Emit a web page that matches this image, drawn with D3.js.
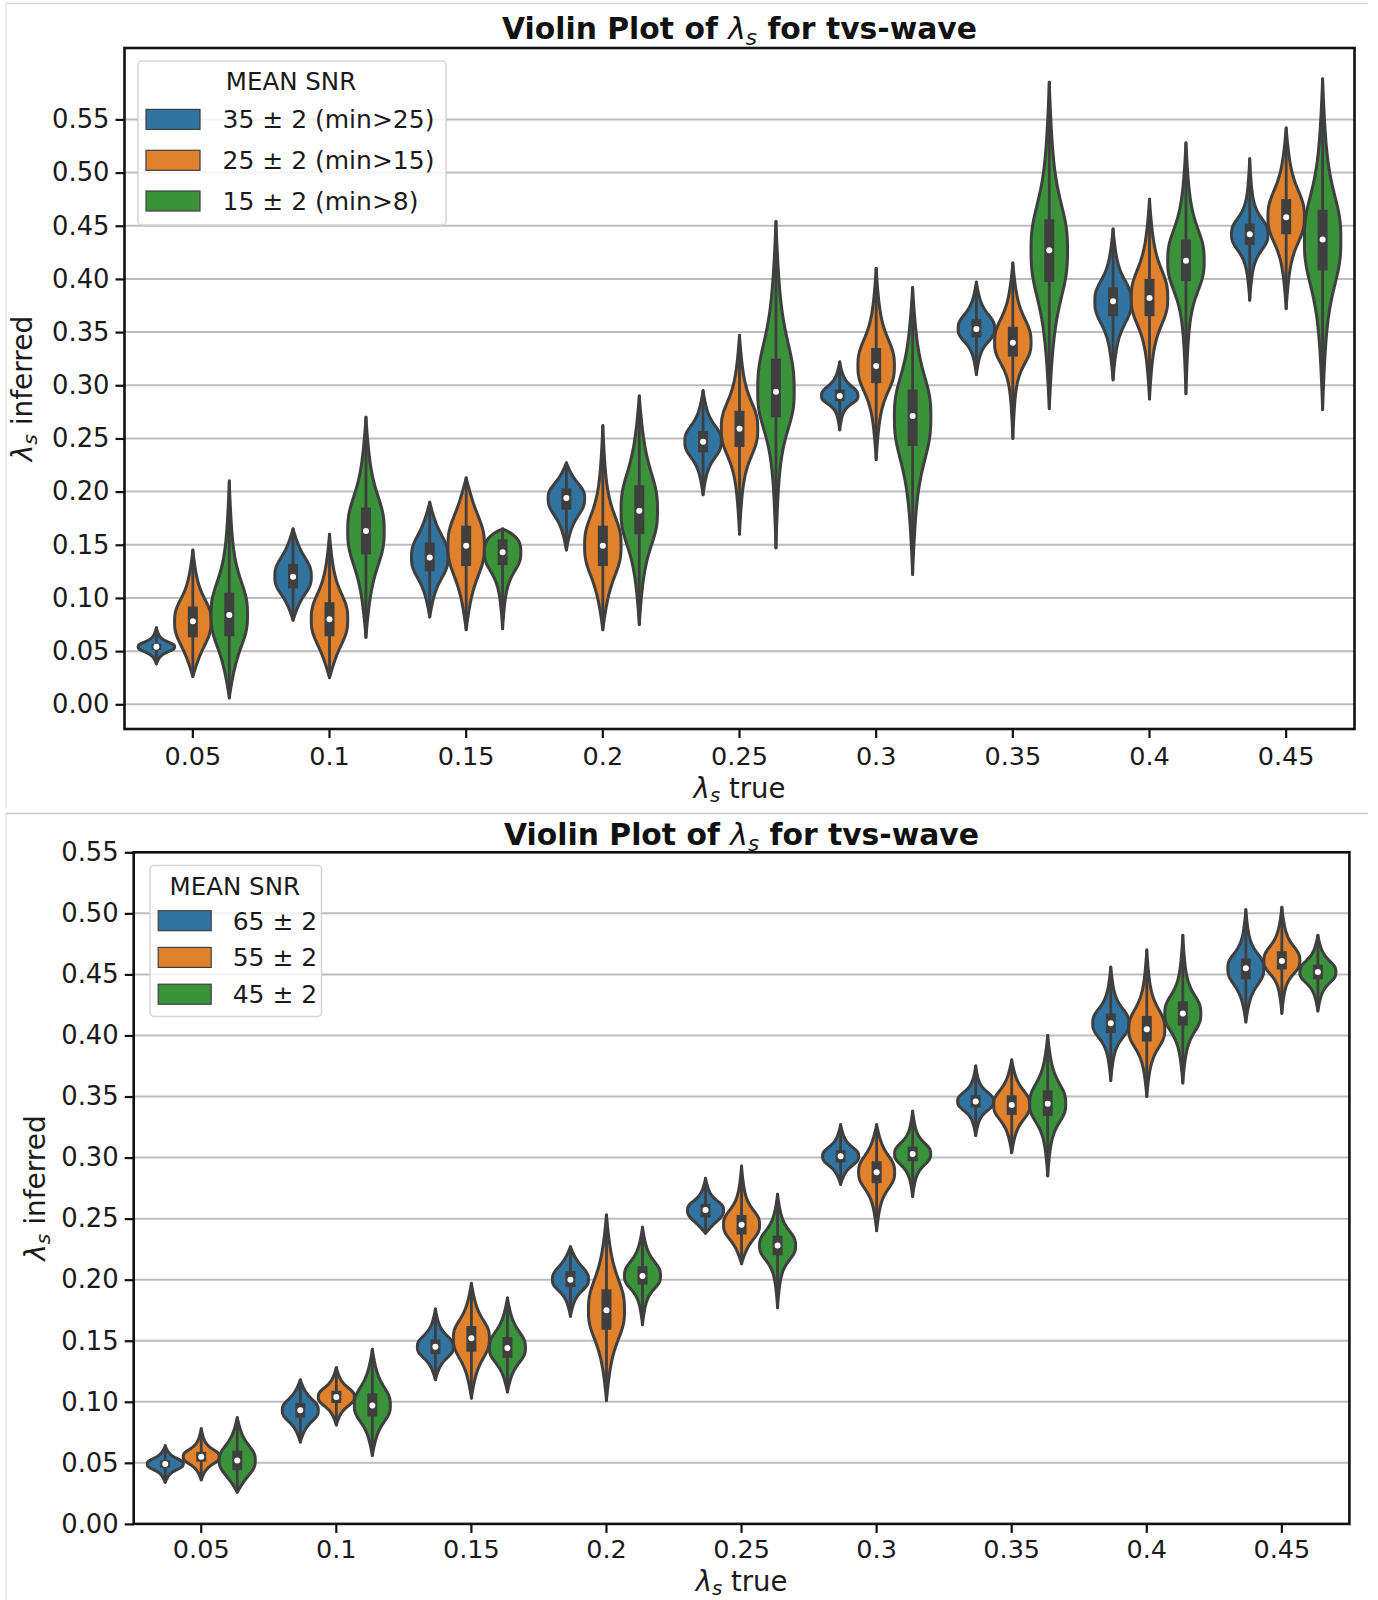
<!DOCTYPE html>
<html>
<head>
<meta charset="utf-8">
<title>Violin plots</title>
<style>
  body { margin: 0; background: #fff; }
  svg { display: block; font-family: "DejaVu Sans", sans-serif; }
</style>
</head>
<body>
<script src="https://d3js.org/d3.v7.min.js"></script>
<script>
// categories and ticks
var categories = ["0.05", "0.1", "0.15", "0.2", "0.25", "0.3", "0.35", "0.4", "0.45"];
var yTicks = [0, 0.05, 0.10, 0.15, 0.20, 0.25, 0.30, 0.35, 0.40, 0.45, 0.50, 0.55];
var colors = ["#3274a1", "#e1812c", "#3a923a"];

var topLegend = ["35 \u00b1 2 (min>25)", "25 \u00b1 2 (min>15)", "15 \u00b1 2 (min>8)"];
var botLegend = ["65 \u00b1 2", "55 \u00b1 2", "45 \u00b1 2"];

// each violin: [min, q1, median, q3, max]
var topBlue = [
  [0.038, 0.051, 0.054, 0.057, 0.072],
  [0.079, 0.109, 0.120, 0.132, 0.165],
  [0.082, 0.125, 0.138, 0.152, 0.190],
  [0.145, 0.183, 0.194, 0.203, 0.227],
  [0.197, 0.237, 0.247, 0.257, 0.295],
  [0.258, 0.285, 0.290, 0.296, 0.322],
  [0.310, 0.345, 0.353, 0.362, 0.397],
  [0.305, 0.365, 0.379, 0.392, 0.447],
  [0.380, 0.432, 0.442, 0.452, 0.513]
];
var topOrange = [
  [0.026, 0.063, 0.078, 0.092, 0.145],
  [0.025, 0.064, 0.080, 0.096, 0.160],
  [0.070, 0.130, 0.149, 0.168, 0.213],
  [0.070, 0.130, 0.149, 0.168, 0.262],
  [0.160, 0.242, 0.259, 0.276, 0.347],
  [0.230, 0.302, 0.318, 0.335, 0.410],
  [0.250, 0.327, 0.340, 0.355, 0.415],
  [0.287, 0.365, 0.382, 0.400, 0.475],
  [0.372, 0.442, 0.458, 0.475, 0.542]
];
var topGreen = [
  [0.006, 0.064, 0.084, 0.105, 0.210],
  [0.063, 0.141, 0.163, 0.185, 0.270],
  [0.071, 0.131, 0.143, 0.155, 0.165],
  [0.075, 0.160, 0.182, 0.206, 0.290],
  [0.147, 0.270, 0.294, 0.325, 0.454],
  [0.122, 0.243, 0.271, 0.296, 0.392],
  [0.278, 0.397, 0.427, 0.456, 0.585],
  [0.292, 0.398, 0.417, 0.437, 0.528],
  [0.277, 0.408, 0.437, 0.465, 0.588]
];

var botBlue = [
  [0.034, 0.046, 0.049, 0.052, 0.064],
  [0.067, 0.087, 0.093, 0.099, 0.118],
  [0.118, 0.139, 0.145, 0.151, 0.176],
  [0.170, 0.194, 0.200, 0.207, 0.227],
  [0.238, 0.251, 0.257, 0.262, 0.283],
  [0.278, 0.296, 0.301, 0.306, 0.327],
  [0.318, 0.341, 0.346, 0.351, 0.375],
  [0.363, 0.402, 0.410, 0.418, 0.456],
  [0.411, 0.446, 0.455, 0.463, 0.503]
];
var botOrange = [
  [0.036, 0.051, 0.055, 0.059, 0.078],
  [0.081, 0.099, 0.104, 0.109, 0.128],
  [0.103, 0.141, 0.152, 0.162, 0.197],
  [0.101, 0.159, 0.175, 0.192, 0.253],
  [0.213, 0.237, 0.245, 0.253, 0.293],
  [0.240, 0.279, 0.288, 0.297, 0.327],
  [0.304, 0.335, 0.343, 0.351, 0.380],
  [0.350, 0.395, 0.405, 0.416, 0.470],
  [0.418, 0.454, 0.461, 0.469, 0.505]
];
var botGreen = [
  [0.026, 0.044, 0.052, 0.060, 0.087],
  [0.056, 0.088, 0.097, 0.107, 0.143],
  [0.108, 0.136, 0.144, 0.153, 0.185],
  [0.163, 0.196, 0.203, 0.211, 0.243],
  [0.177, 0.220, 0.228, 0.236, 0.270],
  [0.268, 0.297, 0.303, 0.309, 0.338],
  [0.285, 0.334, 0.344, 0.355, 0.400],
  [0.361, 0.408, 0.418, 0.428, 0.482],
  [0.420, 0.446, 0.452, 0.458, 0.482]
];

var W = 1378, H = 1600;
var svg = d3.select("body").append("svg").attr("width", W).attr("height", H);

// screenshot frames
svg.append("line").attr("x1", 6).attr("x2", 1368).attr("y1", 3.5).attr("y2", 3.5)
  .attr("stroke", "#d8d8d8").attr("stroke-width", 1.5);
svg.append("line").attr("x1", 6).attr("x2", 6).attr("y1", 3).attr("y2", 808)
  .attr("stroke", "#e4e4e4").attr("stroke-width", 1.5);
svg.append("line").attr("x1", 6).attr("x2", 1368).attr("y1", 813.5).attr("y2", 813.5)
  .attr("stroke", "#c8c8c8").attr("stroke-width", 1.5);
svg.append("line").attr("x1", 6).attr("x2", 6).attr("y1", 813).attr("y2", 1600)
  .attr("stroke", "#e4e4e4").attr("stroke-width", 1.5);

var grey = "#3f3f3f";

// lambda_s label builder
function lambdaText(sel, before, after, sub) {
  sel.append("tspan").text(before);
  sel.append("tspan").attr("font-style", "italic").attr("font-weight", "normal").text("\u03bb");
  sel.append("tspan").attr("font-style", "italic").attr("font-weight", "normal")
    .attr("font-size", "72%").attr("dy", sub).text("s");
  sel.append("tspan").attr("dy", -sub).text(after);
}

// outline half-width (0..1) at value v for a violin summary
function profile(s, v) {
  var mn = s[0], q1 = s[1], md = s[2], q3 = s[3], mx = s[4];
  var up = v >= md;
  var iq = Math.max(up ? q3 - md : md - q1, 1e-4);
  var u = Math.abs(v - md) / iq;
  var f = 1 / (1 + Math.pow(u / 1.85, 2.8));
  var t = Math.abs(v - md) / Math.max(up ? mx - md : md - mn, 1e-4);
  f = (f + 0.045 * (1 - Math.pow(t, 3))) / 1.045;
  return Math.max(f * (1 - Math.pow(t, 6)), 0);
}

function drawPanel(p) {
  var g = svg.append("g");

  var x = d3.scaleBand().domain(categories).range([p.left, p.right]).padding(0);
  var hue = d3.scaleBand().domain([0, 1, 2]).range([-0.4 * x.bandwidth(), 0.4 * x.bandwidth()]);
  var y = d3.scaleLinear().domain([0, 0.55]).range([p.y0, p.y55]);

  // grid
  g.append("g").selectAll("line").data(yTicks).join("line")
    .attr("x1", p.left).attr("x2", p.right)
    .attr("y1", function (d) { return y(d); }).attr("y2", function (d) { return y(d); })
    .attr("stroke", "#bdbdbd").attr("stroke-width", 2);

  // violins
  var half = hue.bandwidth() / 2;
  var series = [p.blue, p.orange, p.green];
  series.forEach(function (ser, si) {
    ser.forEach(function (s, ci) {
      var cx = x(categories[ci]) + x.bandwidth() / 2 + hue(si) + hue.bandwidth() / 2;
      var mn = s[0], q1 = s[1], md = s[2], q3 = s[3], mx = s[4];
      var grid = d3.range(0, 101).map(function (i) { return mn + (mx - mn) * i / 100; });
      grid.push(md);
      grid.sort(d3.ascending);
      var pts = grid.map(function (v) { return { v: v, w: profile(s, v) }; });

      var area = d3.area()
        .y(function (d) { return y(d.v); })
        .x0(function (d) { return cx - d.w * half; })
        .x1(function (d) { return cx + d.w * half; })
        .curve(d3.curveBasis);

      g.append("path").attr("d", area(pts))
        .attr("fill", colors[si]).attr("stroke", grey).attr("stroke-width", 3)
        .attr("stroke-linejoin", "round");
      g.append("line").attr("x1", cx).attr("x2", cx)
        .attr("y1", y(mn)).attr("y2", y(mx))
        .attr("stroke", grey).attr("stroke-width", 2.8).attr("stroke-linecap", "round");
      g.append("rect").attr("x", cx - 5).attr("width", 10)
        .attr("y", y(q3)).attr("height", y(q1) - y(q3)).attr("fill", grey);
      g.append("circle").attr("cx", cx).attr("cy", y(md)).attr("r", 3).attr("fill", "#fff");
    });
  });

  // frame
  g.append("rect").attr("x", p.left).attr("y", p.top)
    .attr("width", p.right - p.left).attr("height", p.bottom - p.top)
    .attr("fill", "none").attr("stroke", "#111").attr("stroke-width", 2.6);

  // axes
  var yAxis = d3.axisLeft(y).tickValues(yTicks).tickFormat(d3.format(".2f"))
    .tickSize(9).tickPadding(6);
  var ya = g.append("g").attr("transform", "translate(" + p.left + ",0)").call(yAxis);
  ya.select(".domain").remove();
  ya.selectAll("line").attr("stroke", "#111").attr("stroke-width", 2.2);
  ya.selectAll("text").attr("font-size", 25.8).attr("font-family", "DejaVu Sans").attr("fill", "#1a1a1a");

  var xAxis = d3.axisBottom(x).tickSize(9).tickPadding(p.xPad);
  var xa = g.append("g").attr("transform", "translate(0," + p.bottom + ")").call(xAxis);
  xa.select(".domain").remove();
  xa.selectAll("line").attr("stroke", "#111").attr("stroke-width", 2.2);
  xa.selectAll("text").attr("font-size", 25.5).attr("font-family", "DejaVu Sans").attr("fill", "#1a1a1a");

  var mid = (p.left + p.right) / 2;
  // title
  var title = g.append("text").attr("x", mid).attr("y", p.titleY).attr("text-anchor", "middle")
    .attr("font-size", 29.8).attr("font-weight", "bold").attr("fill", "#111");
  lambdaText(title, "Violin Plot of ", " for tvs-wave", 6);

  // x label
  var xl = g.append("text").attr("x", mid).attr("y", p.xLabelY).attr("text-anchor", "middle")
    .attr("font-size", 27.5).attr("fill", "#1a1a1a");
  lambdaText(xl, "", " true", 4);

  // y label
  var yl = g.append("text").attr("text-anchor", "middle").attr("font-size", 28).attr("fill", "#1a1a1a")
    .attr("transform", "translate(" + p.yLabelX + "," + ((p.top + p.bottom) / 2) + ") rotate(-90)");
  lambdaText(yl, "", " inferred", 5);

  // legend
  var L = p.legend;
  var lg = g.append("g");
  lg.append("rect").attr("x", L.x).attr("y", L.y).attr("width", L.w).attr("height", L.h)
    .attr("rx", 4).attr("fill", "#fff").attr("fill-opacity", 0.82)
    .attr("stroke", "#d4d4d4").attr("stroke-width", 1.5);
  lg.append("text").attr("x", L.titleX).attr("y", L.titleY).attr("text-anchor", "middle")
    .attr("font-size", 24.5).attr("fill", "#1a1a1a").text("MEAN SNR");
  lg.selectAll("g.item").data(p.labels).join("g").attr("class", "item")
    .each(function (d, i) {
      var it = d3.select(this);
      var cy = L.rowY[i];
      it.append("rect").attr("x", L.px).attr("y", cy - 10).attr("width", L.pw).attr("height", 20)
        .attr("fill", colors[i]).attr("stroke", grey).attr("stroke-width", 1.2);
      it.append("text").attr("x", L.tx).attr("y", cy + 9).attr("font-size", 25)
        .attr("fill", "#1a1a1a").text(d);
    });
}

drawPanel({
  left: 124.5, right: 1354.5, top: 48, bottom: 729,
  y0: 704.3, y55: 119.4, xPad: 9,
  titleY: 39, xLabelY: 798, yLabelX: 32,
  blue: topBlue, orange: topOrange, green: topGreen,
  labels: topLegend,
  legend: { x: 138, y: 61, w: 308, h: 164, titleX: 291, titleY: 90,
            px: 146, pw: 54, tx: 222.5, rowY: [119.4, 160.3, 201] }
});

drawPanel({
  left: 133.7, right: 1349.4, top: 852.3, bottom: 1523.9,
  y0: 1523.9, y55: 852.3, xPad: 7,
  titleY: 845, xLabelY: 1591, yLabelX: 45,
  blue: botBlue, orange: botOrange, green: botGreen,
  labels: botLegend,
  legend: { x: 150, y: 865.5, w: 171.5, h: 151, titleX: 234.8, titleY: 894.5,
            px: 158.2, pw: 53, tx: 232.7, rowY: [920.7, 957.4, 994.2] }
});
</script>
</body>
</html>
